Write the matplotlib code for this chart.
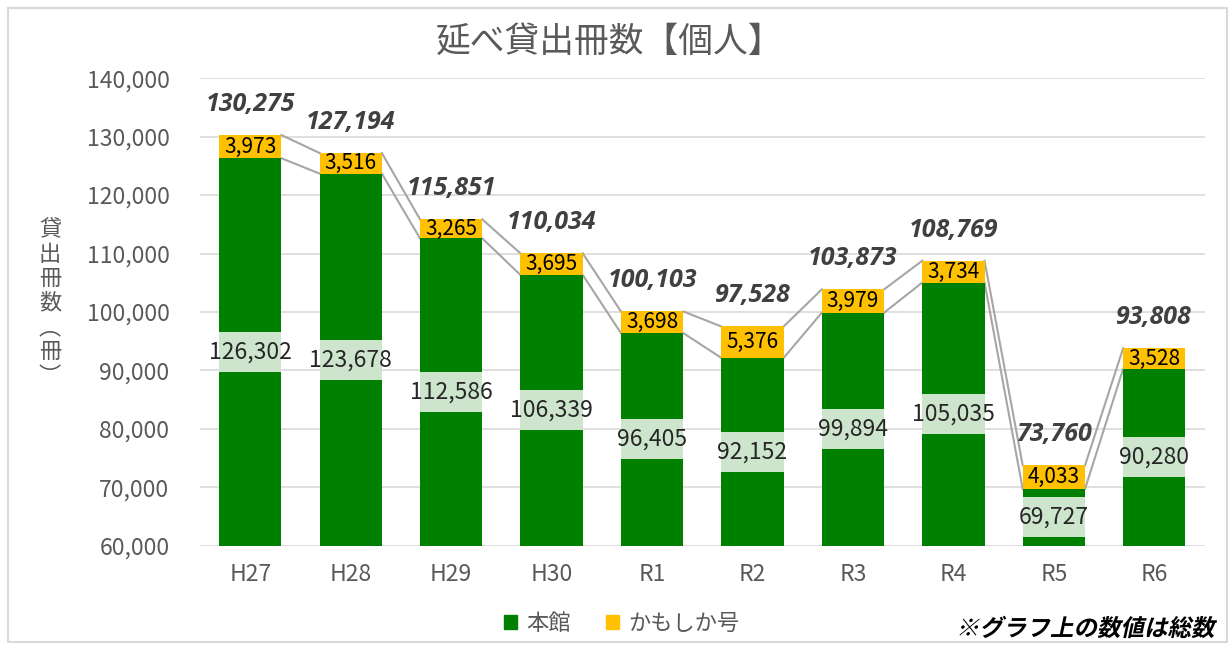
import numpy as np
import matplotlib
matplotlib.use('Agg')
import matplotlib.pyplot as plt
from matplotlib.patches import Rectangle, PathPatch, Patch, FancyBboxPatch
from matplotlib.textpath import TextPath
from matplotlib.font_manager import FontProperties
from matplotlib.transforms import Affine2D, IdentityTransform
from matplotlib.ticker import FuncFormatter

plt.rcParams['font.family'] = ['Noto Sans CJK JP', 'DejaVu Sans']

# data
years = ['H27', 'H28', 'H29', 'H30', 'R1', 'R2', 'R3', 'R4', 'R5', 'R6']
honkan = [126302, 123678, 112586, 106339, 96405, 92152, 99894, 105035, 69727, 90280]
kamoshika = [3973, 3516, 3265, 3695, 3698, 5376, 3979, 3734, 4033, 3528]
totals = [130275, 127194, 115851, 110034, 100103, 97528, 103873, 108769, 73760, 93808]

green = '#008000'
yellow = '#FFC000'
gray_txt = '#595959'

fig = plt.figure(figsize=(12.31, 6.46), dpi=100)
ax = fig.add_axes([0.1625, 0.155, 0.816, 0.724])

ymin, ymax = 60000, 140000
x = np.arange(len(years))
w = 0.62

ax.bar(x, honkan, w, color=green, zorder=3)
ax.bar(x, kamoshika, w, bottom=honkan, color=yellow, zorder=3)

# series lines between bars
for i in range(len(years) - 1):
    ax.plot([x[i] + w/2, x[i+1] - w/2], [honkan[i], honkan[i+1]], color='#A6A6A6', lw=1.5, zorder=2)
    ax.plot([x[i] + w/2, x[i+1] - w/2], [totals[i], totals[i+1]], color='#A6A6A6', lw=1.5, zorder=2)

ax.set_ylim(ymin, ymax)
ax.set_xlim(-0.5, len(years) - 0.5)
ax.set_yticks(np.arange(ymin, ymax + 1, 10000))
ax.yaxis.set_major_formatter(FuncFormatter(lambda v, p: f'{int(v):,}'))
ax.set_xticks(x)
ax.set_xticklabels(years)
ax.tick_params(length=0, labelsize=16.5, colors=gray_txt, pad=12)
ax.tick_params(axis='y', pad=22)
ax.grid(axis='y', color='#D9D9D9', lw=1.2, zorder=0)
for s in ax.spines.values():
    s.set_visible(False)
ax.set_axisbelow(True)

# label boxes in green part
ax_h_px = 0.724 * 646
box_h = 40 / ax_h_px * (ymax - ymin)
for i in range(len(years)):
    yc = (ymin + honkan[i]) / 2
    ax.add_patch(Rectangle((x[i] - w/2, yc - box_h/2), w, box_h, facecolor='#CCE5CC', edgecolor='none', zorder=4))
    ax.text(x[i], yc, f'{honkan[i]:,}', ha='center', va='center', fontsize=16.5, color='#262626', zorder=5)
    ax.text(x[i], honkan[i] + kamoshika[i]/2, f'{kamoshika[i]:,}', ha='center', va='center',
            fontsize=15, color='#000000', zorder=5)
    ax.annotate(f'{totals[i]:,}', (x[i], totals[i]), xytext=(0, 13), textcoords='offset points',
                ha='center', va='bottom', fontsize=18, color='#404040',
                family=['Open Sans', 'DejaVu Sans'], style='italic', weight='bold', zorder=5)

fig.text(0.495, 0.935, '延べ貸出冊数【個人】', ha='center', va='center', fontsize=25, color=gray_txt)
fig.text(50/1231, 1 - 303/646, '貸\n出\n冊\n数\n︵\n冊\n︶', ha='center', va='center',
         fontsize=16, color=gray_txt, linespacing=1.08)

handles = [Patch(color=green, label='本館'), Patch(color=yellow, label='かもしか号')]
fig.legend(handles=handles, loc='center', bbox_to_anchor=(0.505, 1 - 623/646), ncol=2, frameon=False,
           fontsize=16, labelcolor=gray_txt, handlelength=0.6, handleheight=0.6, handletextpad=0.4,
           columnspacing=1.6)

# note text (bold, slanted)
prop = FontProperties(family='Noto Sans CJK JP', weight='bold')
tp = TextPath((0, 0), '※グラフ上の数値は総数', prop=prop, size=23.5)
ext = tp.get_extents()
tr = Affine2D().skew_deg(12, 0).translate(1217 - ext.x1 - 3, 646 - 636)
fig.add_artist(PathPatch(tr.transform_path(tp), facecolor='#000000', edgecolor='none',
                         transform=IdentityTransform()))

# outer border
fig.add_artist(FancyBboxPatch((8/1231, 4/646), 1 - 12/1231, 1 - 12/646, boxstyle='square,pad=0',
                              transform=fig.transFigure, facecolor='none', edgecolor='#D9D9D9', lw=1.5))

fig.savefig('out.png', dpi=100)
